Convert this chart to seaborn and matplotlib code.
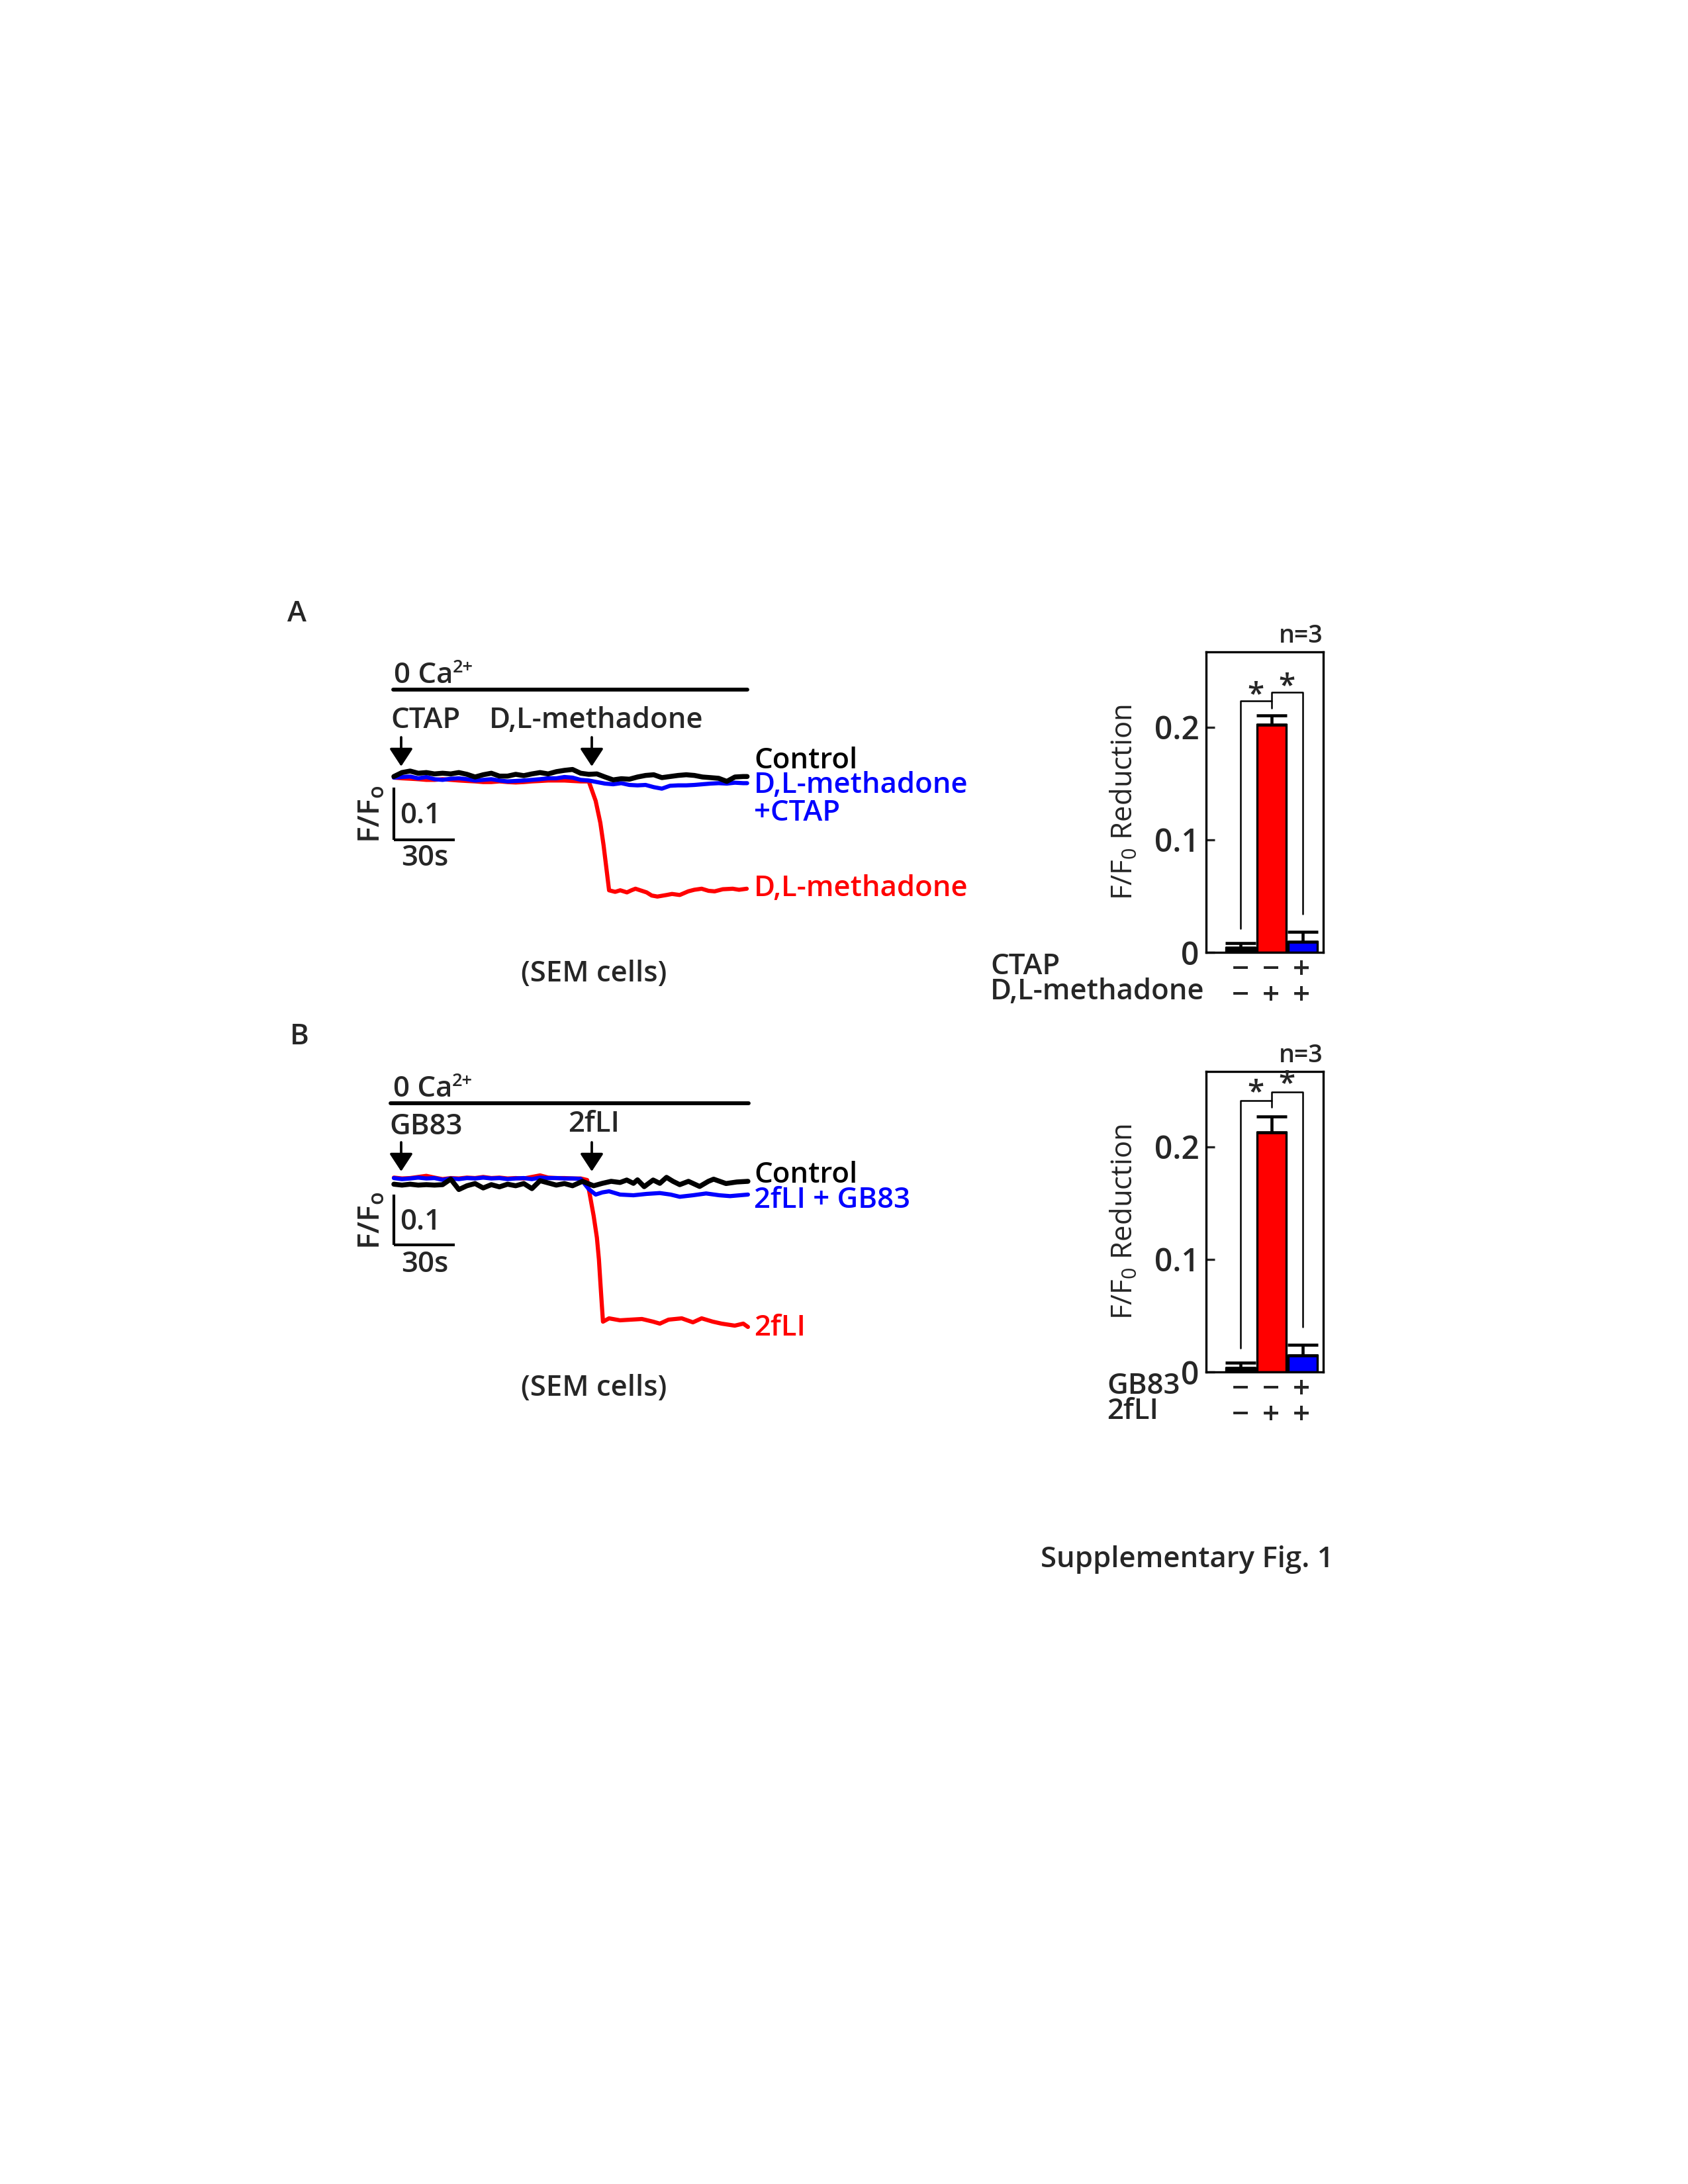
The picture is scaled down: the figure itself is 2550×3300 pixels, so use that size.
import numpy as np
import pandas as pd
import matplotlib
matplotlib.use("Agg")
import matplotlib.pyplot as plt
import seaborn as sns

# ---------------- data ----------------
# Panel A traces (time in s, F/F0)
A_t = [0, 4, 8, 12, 16, 20, 24, 28, 32, 36, 40, 44, 48, 52, 56, 60, 64, 68, 72, 76, 80, 84,
       88, 92, 96, 100, 104, 108, 112, 116, 120, 124, 128, 132, 136, 140, 144, 148, 152,
       156, 160, 164, 168, 172, 174]
A_control = [0.9996, 1.0072, 1.0101, 1.0059, 1.0072, 1.0046, 1.0059, 1.0046, 1.0072, 1.0038,
             0.9987, 1.0030, 1.0059, 1.0004, 1.0004, 1.0038, 1.0013, 1.0046, 1.0072, 1.0046,
             1.0089, 1.0114, 1.0131, 1.0059, 1.0038, 1.0046, 0.9987, 0.9932, 0.9954, 0.9945,
             0.9987, 1.0017, 1.0030, 0.9975, 0.9996, 1.0017, 1.0030, 1.0017, 0.9987, 0.9975,
             0.9962, 0.9903, 0.9987, 0.9996, 0.9996]
A_ctap = [0.9975, 0.9987, 0.9996, 0.9962, 0.9987, 0.9945, 0.9932, 0.9954, 0.9962, 0.9945,
          0.9920, 0.9932, 0.9945, 0.9920, 0.9903, 0.9911, 0.9920, 0.9932, 0.9945, 0.9962,
          0.9962, 0.9987, 0.9975, 0.9932, 0.9920, 0.9890, 0.9861, 0.9848, 0.9869, 0.9835,
          0.9827, 0.9835, 0.9793, 0.9764, 0.9819, 0.9827, 0.9827, 0.9835, 0.9848, 0.9861,
          0.9869, 0.9861, 0.9878, 0.9869, 0.9869]
A_meth_t = [0, 4, 8, 12, 16, 20, 24, 28, 32, 36, 40, 44, 48, 52, 56, 60, 64, 68, 72, 76, 80,
            84, 88, 92, 96, 99.4, 101.7, 103.3, 105.0, 106, 109, 111.5, 114.8, 117, 119, 124.5,
            127, 129.8, 134.3, 137, 140.8, 145, 148, 151.6, 155, 158, 162, 166.9, 170, 173.8]
A_meth = [0.9975, 0.9962, 0.9954, 0.9945, 0.9932, 0.9932, 0.9945, 0.9932, 0.9920, 0.9911,
          0.9903, 0.9890, 0.9890, 0.9903, 0.9890, 0.9882, 0.9890, 0.9903, 0.9911, 0.9920,
          0.9920, 0.9920, 0.9911, 0.9903, 0.9903, 0.953, 0.911, 0.868, 0.814, 0.782,
          0.779, 0.782, 0.778, 0.782, 0.785, 0.778, 0.772, 0.770, 0.773, 0.775,
          0.773, 0.780, 0.783, 0.785, 0.781, 0.780, 0.784, 0.785, 0.783, 0.785]

# Panel B traces
B_control_t = [0, 4, 8, 12, 16, 20, 24, 28, 32, 36, 40, 44, 48, 52, 56, 60, 64, 68, 72, 76,
               80, 84, 88, 92.9, 98.4, 102.7, 107, 111.4, 114.7, 118, 120, 123.3, 127.7, 131,
               134.3, 137.5, 140.8, 145.1, 150.6, 154.9, 157.5, 163.6, 168.9, 174.4]
B_control = [0.9917, 0.9899, 0.9917, 0.9899, 0.9908, 0.9899, 0.9908, 1.0018, 0.9811, 0.9886,
             0.9930, 0.9842, 0.9908, 0.9864, 0.9917, 0.9886, 0.9930, 0.9829, 0.9987, 0.9943,
             0.9899, 0.9930, 0.9886, 0.9974, 0.9886, 0.9934, 0.9974, 0.9951, 1.0000, 0.9934,
             1.0004, 0.9868, 1.0000, 0.9934, 1.0053, 0.9974, 0.9908, 0.9974, 0.9872, 0.9974,
             1.0017, 0.9930, 0.9961, 0.9974]
B_gb83_t = [0, 4, 8, 12, 16, 20, 24, 28, 32, 36, 40, 44, 48, 52, 56, 60, 64, 68, 72, 76, 80,
            84, 88, 92, 96, 99.4, 102.7, 106, 111.4, 118, 124.5, 131, 136.3, 140.8, 147.3,
            153.8, 160.3, 165.6, 174.4]
B_gb83 = [1.0039, 1.0018, 1.0031, 1.0048, 1.0031, 1.0039, 1.0004, 1.0031, 1.0018, 1.0039,
          1.0031, 1.0048, 1.0031, 1.0039, 1.0018, 1.0031, 1.0039, 1.0018, 1.0048, 1.0039,
          1.0039, 1.0031, 1.0031, 1.0022, 0.9820, 0.9711, 0.9754, 0.9776, 0.9711, 0.9697,
          0.9724, 0.9741, 0.9711, 0.9667, 0.9697, 0.9733, 0.9697, 0.9680, 0.9711]
B_2fli_t = [0, 4, 8, 12, 16, 20, 24, 28, 32, 36, 40, 44, 48, 52, 56, 60, 64, 68, 72, 76, 80,
            84, 88, 92, 95.2, 96.8, 98.4, 100, 101, 101.7, 102.4, 103, 106, 111.4, 116.7,
            122.2, 127.7, 131, 135.3, 141.8, 147.3, 151.6, 157.1, 161.4, 167.9, 172.1, 174.4]
B_2fli = [1.0048, 1.0031, 1.0039, 1.0061, 1.0083, 1.0048, 1.0018, 1.0039, 1.0031, 1.0048,
          1.0039, 1.0061, 1.0039, 1.0048, 1.0031, 1.0039, 1.0031, 1.0061, 1.0092, 1.0048,
          1.0039, 1.0039, 1.0031, 1.0031, 1.0, 0.9645, 0.9289, 0.8855, 0.8421, 0.7974,
          0.7539, 0.7184, 0.7250, 0.7211, 0.7224, 0.7237, 0.7184, 0.7145, 0.7224, 0.7250,
          0.7171, 0.7250, 0.7184, 0.7145, 0.7105, 0.7145, 0.7079]

# Bar charts
bar_groups = ["Control", "Agonist", "Agonist + Antagonist"]
bar_colors = ["#000000", "#ff0000", "#0000ff"]
A_bar_mean = [0.0040, 0.2024, 0.0094]
A_bar_sem = [0.0042, 0.0082, 0.0088]
B_bar_mean = [0.0035, 0.2130, 0.0147]
B_bar_sem = [0.0047, 0.0140, 0.0093]
A_row1_label, A_row2_label = "CTAP", "D,L-methadone"
B_row1_label, B_row2_label = "GB83", "2fLI"
row1_signs = ["\u2212", "\u2212", "+"]
row2_signs = ["\u2212", "+", "+"]
ytick_vals = [0, 0.1, 0.2]
ytick_labels = ["0", "0.1", "0.2"]

# ---------------- style ----------------
sns.set_theme(style="white")
plt.rcParams["font.family"] = ["Open Sans", "DejaVu Sans"]
plt.rcParams["font.weight"] = "semibold"
plt.rcParams["mathtext.fontset"] = "custom"
plt.rcParams["mathtext.rm"] = "Open Sans:semibold"
plt.rcParams["mathtext.it"] = "Open Sans:semibold"

W, H = 2550, 3300
fig = plt.figure(figsize=(8.5, 11), dpi=300)
fig.patch.set_facecolor("white")

FS = 10.5


def fx(x):
    return x / W


def fy(y):
    return 1 - y / H


def ptext(x, y, s, **kw):
    kw.setdefault("fontsize", FS)
    kw.setdefault("ha", "left")
    kw.setdefault("va", "baseline")
    return fig.text(fx(x), fy(y), s, **kw)


def trace_panel(base_y, px_per_unit, sb_px, control, blue, red):
    # pixel calibration: 3.067 px per second, base_y -> F/F0 = 1
    x0, x1 = 540, 1140
    y0, y1 = base_y - 80, base_y + 240
    ax = fig.add_axes([fx(x0), fy(y1), (x1 - x0) / W, (y1 - y0) / H])
    tpx = 3.067
    ax.set_xlim((x0 - 595) / tpx, (x1 - 595) / tpx)
    ax.set_ylim(1 - (y1 - base_y) / px_per_unit, 1 - (y0 - base_y) / px_per_unit)
    ax.axis("off")
    sns.lineplot(x=red[0], y=red[1], color="#ff0000", lw=1.5, ax=ax, estimator=None, sort=False)
    sns.lineplot(x=blue[0], y=blue[1], color="#0000ff", lw=1.5, ax=ax, estimator=None, sort=False)
    sns.lineplot(x=control[0], y=control[1], color="#000000", lw=1.8, ax=ax, estimator=None, sort=False)
    # scale bar: 0.1 F/F0 and 30 s
    sb_y = 1 - sb_px / px_per_unit
    ax.plot([0, 0], [sb_y, sb_y + 0.1], color="black", lw=1.0, solid_capstyle="butt")
    ax.plot([0, 30], [sb_y, sb_y], color="black", lw=1.0, solid_capstyle="butt")
    return ax


def arrow(x, y_top, y_tip):
    fig.add_artist(matplotlib.patches.FancyArrowPatch(
        (fx(x), fy(y_top)), (fx(x), fy(y_tip)),
        transform=fig.transFigure, arrowstyle="-|>,head_length=0.55,head_width=0.36",
        mutation_scale=10, color="black", lw=0.9, shrinkA=0, shrinkB=0))


def hbar(x0, x1, y):
    fig.add_artist(plt.Line2D([fx(x0), fx(x1)], [fy(y), fy(y)], color="black", lw=1.4))


# ---------------- Panel A traces ----------------
trace_panel(1173, 790, 96, (A_t, A_control), (A_t, A_ctap), (A_meth_t, A_meth))
ptext(434, 939, "A")
ptext(595, 1032, "0 Ca")
ptext(684, 1016, "2+", fontsize=6.5)
hbar(594, 1129, 1042)
ptext(590, 1100, "CTAP")
ptext(739, 1100, "D,L-methadone")
arrow(606, 1114, 1158)
arrow(894, 1114, 1158)
ptext(1139, 1161, "Control", color="black")
ptext(1139, 1198, "D,L-methadone", color="#0000ff")
ptext(1139, 1240, "+CTAP", color="#0000ff")
ptext(1139, 1354, "D,L-methadone", color="#ff0000")
ptext(604, 1244, "0.1")
ptext(606, 1308, "30s")
ptext(562, 1230, r"F/F$_\mathregular{o}$", rotation=90, ha="center", va="center", fontsize=FS + 0.5)
ptext(897, 1472, "(SEM cells)", ha="center", va="center")

# ---------------- Panel B traces ----------------
trace_panel(1783, 760, 98, (B_control_t, B_control), (B_gb83_t, B_gb83), (B_2fli_t, B_2fli))
ptext(438, 1578, "B")
ptext(594, 1657, "0 Ca")
ptext(683, 1641, "2+", fontsize=6.5)
hbar(590, 1131, 1667)
ptext(588, 1714, "GB83")
ptext(858, 1710, "2fLI")
arrow(606, 1726, 1770)
arrow(894, 1726, 1770)
ptext(1139, 1787, "Control", color="black")
ptext(1139, 1825, "2fLI + GB83", color="#0000ff")
ptext(1139, 2018, "2fLI", color="#ff0000")
ptext(604, 1858, "0.1")
ptext(606, 1922, "30s")
ptext(562, 1844, r"F/F$_\mathregular{o}$", rotation=90, ha="center", va="center", fontsize=FS + 0.5)
ptext(897, 2098, "(SEM cells)", ha="center", va="center")


# ---------------- bar charts ----------------
def bar_panel(top, means, sems, r1_lbl, r2_lbl, brackets, stars, lbl_x):
    bottom = top + 454
    ax = fig.add_axes([fx(1822), fy(bottom), 177 / W, 454 / H])
    df = pd.DataFrame({"group": bar_groups, "value": means})
    sns.barplot(data=df, x="group", y="value", hue="group", palette=bar_colors, legend=False,
                errorbar=None, width=0.94, saturation=1, edgecolor="black", linewidth=0.8, ax=ax)
    ax.errorbar(x=[0, 1, 2], y=means, yerr=[[0, 0, 0], sems], fmt="none", ecolor="black",
                elinewidth=1.1, capsize=5.5, capthick=1.1, zorder=5)
    ax.set_xlim(-1.10, 2.66)
    ax.set_ylim(0, 0.267)
    ax.set_xticks([])
    ax.set_yticks(ytick_vals)
    ax.set_yticklabels(ytick_labels, fontsize=11.5)
    ax.tick_params(axis="y", direction="in", length=3.2, width=0.8, pad=2.5, left=True)
    ax.set_xlabel("")
    ax.set_ylabel(r"F/F$_\mathregular{0}$ Reduction", fontsize=10.5)
    ax.yaxis.set_label_coords(-0.565, 0.5)
    for s in ax.spines.values():
        s.set_visible(True)
        s.set_color("black")
        s.set_linewidth(0.8)
    # significance brackets
    for xs, ys in brackets:
        ax.plot(xs, ys, color="black", lw=0.6, clip_on=False)
    for sx, sy in stars:
        ax.text(sx, sy, "*", ha="center", va="baseline", fontsize=11)
    ax.text(1.0, 1.012, "n=3", transform=ax.transAxes, ha="right", va="bottom", fontsize=9)
    # treatment rows: one two-line text per column
    off = top - 985
    for i in range(3):
        xs = 1874 + 46 * i
        ptext(xs, 1486 + off, row1_signs[i] + "\n" + row2_signs[i], ha="center", va="center",
              multialignment="center", linespacing=0.85, fontsize=11)
    ptext(lbl_x, 1472 + off, r1_lbl, fontsize=FS)
    ptext(lbl_x, 1510 + off, r2_lbl, fontsize=FS)
    return ax


bar_panel(985, A_bar_mean, A_bar_sem, A_row1_label, A_row2_label,
          [([0, 0, 1, 1], [0.021, 0.2235, 0.2235, 0.217]),
           ([1, 1, 2, 2], [0.2235, 0.231, 0.231, 0.034])],
          [(0.5, 0.2215), (1.48, 0.2290)], 1496)
bar_panel(1619, B_bar_mean, B_bar_sem, B_row1_label, B_row2_label,
          [([0, 0, 1, 1], [0.021, 0.241, 0.241, 0.235]),
           ([1, 1, 2, 2], [0.241, 0.249, 0.249, 0.040])],
          [(0.5, 0.2410), (1.48, 0.2485)], 1672)

ptext(1572, 2356, "Supplementary Fig. 1", va="center", fontsize=FS)

fig.savefig("out.png", dpi=300, facecolor="white")
